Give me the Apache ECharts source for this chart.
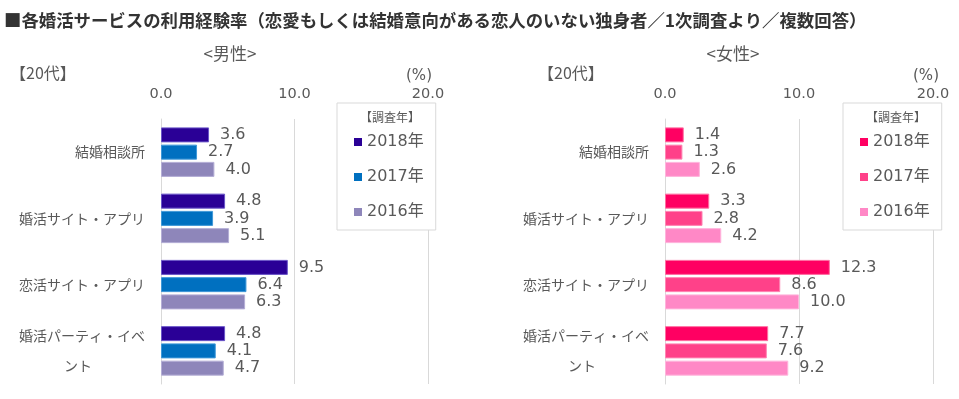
<!DOCTYPE html>
<html>
<head>
<meta charset="utf-8">
<script src="https://cdn.jsdelivr.net/npm/echarts@6/dist/echarts.min.js"></script>
<style>
  html, body { margin: 0; padding: 0; background: #fff; }
  #chart { width: 959px; height: 399px; }
</style>
</head>
<body>
<div id="chart"></div>
<script>
// data
var categories = ['結婚相談所', '婚活サイト・アプリ', '恋活サイト・アプリ', '婚活パーティ・イベント']
var years = ['2018年', '2017年', '2016年']
var male2018 = [3.6, 4.8, 9.5, 4.8]
var male2017 = [2.7, 3.9, 6.4, 4.1]
var male2016 = [4.0, 5.1, 6.3, 4.7]
var female2018 = [1.4, 3.3, 12.3, 7.7]
var female2017 = [1.3, 2.8, 8.6, 7.6]
var female2016 = [2.6, 4.2, 10.0, 9.2]
var axisMin = 0, axisMax = 20, axisStep = 10

var maleColors = ['#2A0096', '#0070C0', '#8E86BA']
var maleBorders = ['#6A55C8', '#3F98D8', '#B4AED6']
var femaleColors = ['#FF0062', '#FF4189', '#FF88C6']
var femaleBorders = ['#FF6FA2', '#FF86B4', '#FFB4DC']

var gray = '#595959'
var numFont = "'DejaVu Sans', 'Noto Sans CJK JP', sans-serif"
var jpFont = "'Noto Sans CJK JP', sans-serif"

var chart = echarts.init(document.getElementById('chart'))

function xAxisOf(i) {
  return {
    type: 'value', gridIndex: i, position: 'top',
    min: axisMin, max: axisMax, interval: axisStep,
    axisLine: { show: false }, axisTick: { show: false },
    splitLine: { lineStyle: { color: '#D9D9D9', width: 1 } },
    axisLabel: {
      color: gray, fontSize: 14.5, fontFamily: numFont, margin: 18,
      formatter: function (v) { return v.toFixed(1) }
    }
  }
}

function yAxisOf(i) {
  return {
    type: 'category', gridIndex: i, inverse: true, data: categories,
    axisLine: { show: true, lineStyle: { color: '#D9D9D9' } },
    axisTick: { show: false },
    axisLabel: {
      color: gray, fontSize: 14, fontFamily: jpFont, margin: 16,
      formatter: function (v) {
        if (v.length > 9) return '{a|' + v.slice(0, 9) + '}\n{b|' + v.slice(9) + '}'
        return v
      },
      rich: {
        a: { fontSize: 14, fontFamily: jpFont, color: gray, lineHeight: 30 },
        b: { fontSize: 14, fontFamily: jpFont, color: gray, lineHeight: 30, width: 134, align: 'center' }
      }
    }
  }
}

function barSeries(prefix, i, idx, values, colors, borders) {
  return {
    name: prefix + years[idx], type: 'bar', xAxisIndex: i, yAxisIndex: i,
    data: values, barWidth: 15, barGap: '15%',
    itemStyle: { color: colors[idx], borderColor: borders[idx], borderWidth: 1 },
    label: {
      show: true, position: 'right', distance: 11,
      color: gray, fontSize: 16, fontFamily: numFont,
      formatter: function (p) { return p.value.toFixed(1) }
    }
  }
}

function legendOf(prefix, left) {
  return {
    orient: 'vertical', left: left, top: 103,
    data: years.map(function (y) { return prefix + y }),
    formatter: function (n) { return n.replace(prefix, '') },
    icon: 'rect', itemWidth: 8, itemHeight: 8, itemGap: 19,
    itemStyle: { borderWidth: 0 },
    padding: [31, 12, 10, 17],
    borderColor: '#D9D9D9', borderWidth: 1, backgroundColor: '#fff',
    textStyle: { color: gray, fontSize: 16, fontFamily: numFont }
  }
}

function label(text, x, y, size, opts) {
  return {
    type: 'text', x: x, y: y, z: 100,
    style: Object.assign({
      text: text, fill: gray, fontSize: size, fontFamily: numFont,
      align: 'left', verticalAlign: 'middle'
    }, opts || {})
  }
}

chart.setOption({
  animation: false,
  grid: [
    { left: 161, top: 119, width: 267, height: 265 },
    { left: 665, top: 119, width: 268, height: 265 }
  ],
  xAxis: [xAxisOf(0), xAxisOf(1)],
  yAxis: [yAxisOf(0), yAxisOf(1)],
  legend: [legendOf('男性', 337), legendOf('女性', 843)],
  series: [
    barSeries('男性', 0, 0, male2018, maleColors, maleBorders),
    barSeries('男性', 0, 1, male2017, maleColors, maleBorders),
    barSeries('男性', 0, 2, male2016, maleColors, maleBorders),
    barSeries('女性', 1, 0, female2018, femaleColors, femaleBorders),
    barSeries('女性', 1, 1, female2017, femaleColors, femaleBorders),
    barSeries('女性', 1, 2, female2016, femaleColors, femaleBorders)
  ],
  graphic: [
    label('■各婚活サービスの利用経験率（恋愛もしくは結婚意向がある恋人のいない独身者／1次調査より／複数回答）', 4, 20, 17.4,
      { fill: '#333', fontWeight: 'bold', fontFamily: jpFont }),
    label('<男性>', 230, 54, 17, { align: 'center', fontFamily: jpFont }),
    label('<女性>', 733, 54, 17, { align: 'center', fontFamily: jpFont }),
    label('【20代】', 10, 73, 16, { fontFamily: jpFont }),
    label('【20代】', 538, 73, 16, { fontFamily: jpFont }),
    label('(%)', 419, 76, 15, { align: 'center' }),
    label('(%)', 926, 76, 15, { align: 'center' }),
    label('【調査年】', 390, 117, 12, { align: 'center', fontFamily: jpFont }),
    label('【調査年】', 896, 117, 12, { align: 'center', fontFamily: jpFont })
  ]
})
</script>
</body>
</html>
